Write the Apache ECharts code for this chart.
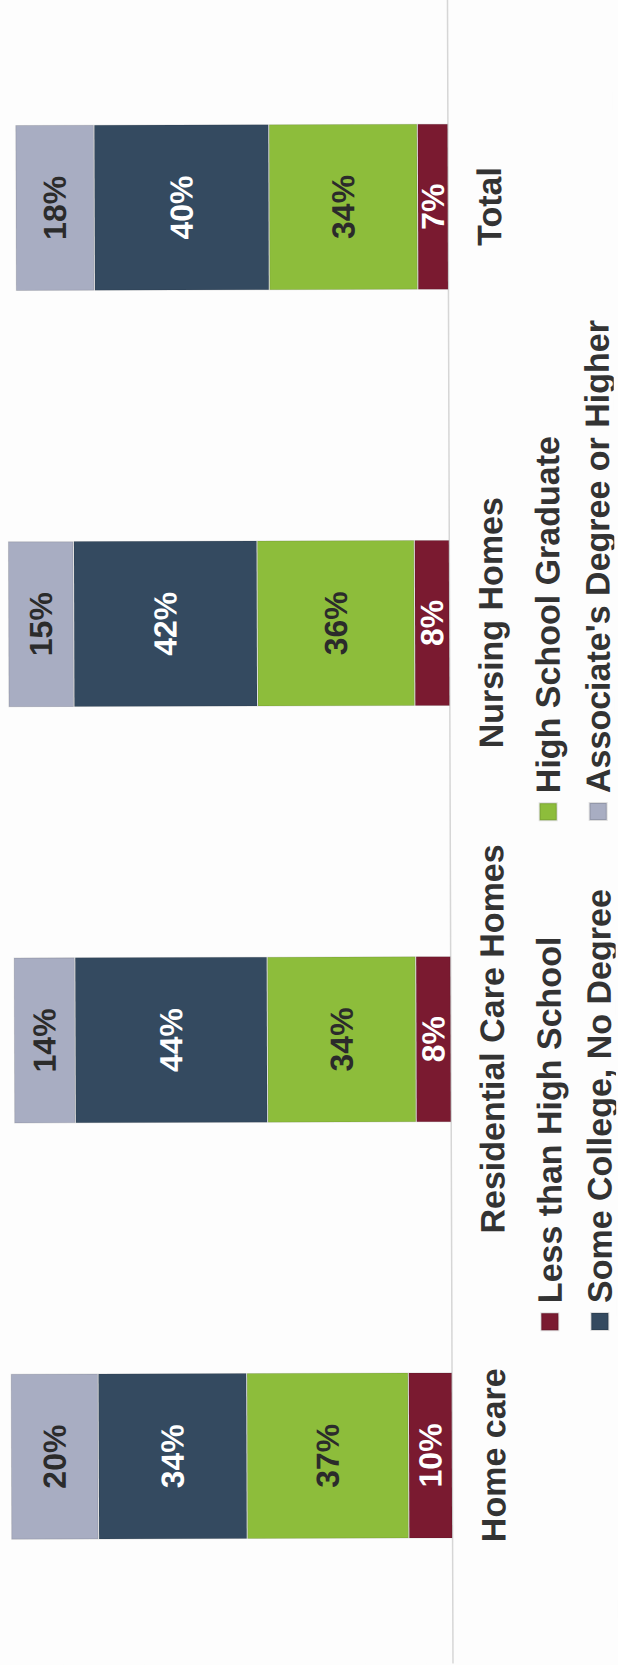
<!DOCTYPE html>
<html>
<head>
<meta charset="utf-8">
<script src="https://cdn.jsdelivr.net/npm/echarts@6/dist/echarts.min.js"></script>
<style>
  html, body { margin: 0; padding: 0; width: 618px; height: 1665px; overflow: hidden; background: #fdfdfd; }
  /* The chart is laid out landscape and turned a quarter turn counter-clockwise
     (plus the slight tilt of the printed page) */
  #chart {
    position: absolute; left: 0; top: 0;
    width: 1665px; height: 618px;
    transform-origin: 0 0;
    transform: translateY(1665px) rotate(-90.19deg);
  }
</style>
</head>
<body>
<div id="chart"></div>
<script>
// Educational attainment of the workforce by care setting (percent)
const categories = ['Home care', 'Residential Care Homes', 'Nursing Homes', 'Total'];
const seriesNames = ['Less than High School', 'High School Graduate', 'Some College, No Degree', "Associate's Degree or Higher"];
const lessThanHighSchool = [10, 8, 8, 7];
const highSchoolGraduate = [37, 34, 36, 34];
const someCollege = [34, 44, 42, 40];
const associatesOrHigher = [20, 14, 15, 18];

const seriesValues = [lessThanHighSchool, highSchoolGraduate, someCollege, associatesOrHigher];
const colors = ['#7a1a30', '#8dbd3b', '#344a60', '#a8adc2'];
const labelColors = ['#ffffff', '#2b2b2b', '#ffffff', '#2b2b2b'];

const font = "'Liberation Sans', Arial, sans-serif";
const textColor = '#333333';

const chart = echarts.init(document.getElementById('chart'), null, { renderer: 'svg' });

const legendText = { fontSize: 34, fontWeight: 'bold', color: textColor, fontFamily: font, padding: [0, 0, 0, 5] };
const legendBase = {
  orient: 'vertical', top: 534, height: 120, padding: 0,
  itemWidth: 17, itemHeight: 17, itemGap: 16, icon: 'rect',
  textStyle: legendText
};

chart.setOption({
  backgroundColor: '#fdfdfd',
  animation: false,
  grid: { left: 0, right: 0, top: 16, bottom: 165, containLabel: false },
  xAxis: {
    type: 'category',
    data: categories,
    axisLine: { show: true, lineStyle: { color: '#d6d6d6', width: 1.5 } },
    axisTick: { show: false },
    axisLabel: {
      interval: 0, margin: 24,
      fontSize: 34, fontWeight: 'bold', color: textColor, fontFamily: font
    }
  },
  yAxis: { type: 'value', min: 0, max: 100, show: false, splitLine: { show: false } },
  legend: [
    Object.assign({}, legendBase, { left: 332, data: [seriesNames[0], seriesNames[2]] }),
    Object.assign({}, legendBase, { left: 842, data: [seriesNames[1], seriesNames[3]] })
  ],
  series: seriesNames.map((name, i) => ({
    name: name,
    type: 'bar',
    stack: 'share',
    barWidth: 166,
    clip: false,
    data: seriesValues[i],
    itemStyle: { color: colors[i], borderColor: 'rgba(0,0,0,0.12)', borderWidth: 1 },
    label: {
      show: true, position: 'inside',
      formatter: '{c}%',
      fontSize: 32, fontWeight: 'bold', fontFamily: font,
      color: labelColors[i]
    }
  }))
});
</script>
</body>
</html>
